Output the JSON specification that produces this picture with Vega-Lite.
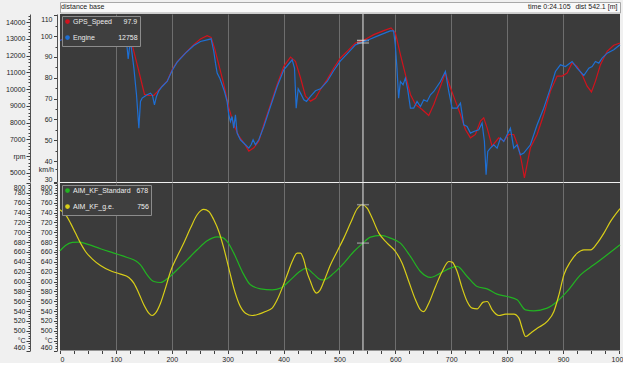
{
"$schema": "https://vega.github.io/schema/vega-lite/v6.json",
"background": "#f0f0f0",
"padding": {"left": 5, "top": 1, "right": 0, "bottom": 0},
"spacing": 1,
"bounds": "flush",
"config": {
  "view": {"fill": "#3b3b3b", "stroke": null},
  "font": "Liberation Sans",
  "axis": {"labelFont": "Liberation Sans", "labelFontSize": 7, "labelColor": "#1e1e1e", "domainColor": "#505050", "tickColor": "#404040", "labelOverlap": false, "labelBound": false, "title": null},
  "axisY": {"grid": false},
  "legend": {"labelFont": "Liberation Sans"}
},
"datasets": {
  "speed": [
    {"d":0,"v":98.0},{"d":15.8,"v":99.9},{"d":42.6,"v":104.7},{"d":66.5,"v":106.3},{"d":90.3,"v":106.8},{"d":108.2,"v":105.2},{"d":120.2,"v":101.5},{"d":129.1,"v":95.9},{"d":138.1,"v":86.3},{"d":144.0,"v":79.9},{"d":151.2,"v":72.0},{"d":158.9,"v":71.5},{"d":167.9,"v":71.6},{"d":173.8,"v":73.2},{"d":182.8,"v":76.0},{"d":191.7,"v":78.4},{"d":200.7,"v":83.9},{"d":209.6,"v":87.6},{"d":224.5,"v":91.9},{"d":239.4,"v":95.9},{"d":251.3,"v":98.6},{"d":263.3,"v":100.2},{"d":270.4,"v":99.4},{"d":276.4,"v":94.3},{"d":284.1,"v":86.3},{"d":293.1,"v":76.8},{"d":302.1,"v":65.6},{"d":311.0,"v":57.6},{"d":320.0,"v":52.0},{"d":328.9,"v":48.8},{"d":337.9,"v":44.8},{"d":346.8,"v":46.4},{"d":355.7,"v":49.6},{"d":364.7,"v":57.6},{"d":376.6,"v":67.1},{"d":388.6,"v":76.8},{"d":400.5,"v":85.5},{"d":412.4,"v":89.9},{"d":421.3,"v":87.9},{"d":430.3,"v":80.0},{"d":439.2,"v":71.2},{"d":448.2,"v":68.8},{"d":457.1,"v":70.2},{"d":466.0,"v":74.4},{"d":478.0,"v":79.1},{"d":489.9,"v":84.7},{"d":501.8,"v":89.5},{"d":513.7,"v":92.7},{"d":528.6,"v":96.7},{"d":543.5,"v":98.0},{"d":561.4,"v":100.7},{"d":579.3,"v":102.6},{"d":592.4,"v":103.9},{"d":600.2,"v":101.5},{"d":609.1,"v":91.1},{"d":618.1,"v":81.5},{"d":627.0,"v":72.0},{"d":636.0,"v":67.2},{"d":647.9,"v":64.8},{"d":659.8,"v":61.9},{"d":668.8,"v":67.2},{"d":677.7,"v":73.6},{"d":689.6,"v":82.4},{"d":698.6,"v":75.2},{"d":707.5,"v":68.8},{"d":716.5,"v":62.4},{"d":725.4,"v":55.2},{"d":734.4,"v":51.2},{"d":743.3,"v":52.8},{"d":752.3,"v":59.2},{"d":758.2,"v":60.8},{"d":764.2,"v":56.0},{"d":773.1,"v":47.2},{"d":785.0,"v":51.2},{"d":794.0,"v":49.6},{"d":802.9,"v":52.8},{"d":811.9,"v":52.8},{"d":820.8,"v":46.4},{"d":826.8,"v":38.4},{"d":831.0,"v":32.0},{"d":835.8,"v":38.4},{"d":841.7,"v":46.4},{"d":853.7,"v":52.8},{"d":865.6,"v":62.4},{"d":877.5,"v":73.6},{"d":889.5,"v":80.8},{"d":898.4,"v":80.8},{"d":907.4,"v":82.3},{"d":916.3,"v":87.1},{"d":925.3,"v":85.5},{"d":934.2,"v":81.5},{"d":943.2,"v":76.0},{"d":950.9,"v":73.2},{"d":958.1,"v":78.4},{"d":967.0,"v":86.3},{"d":979.0,"v":92.7},{"d":990.9,"v":95.6},{"d":1002,"v":96.7}
  ],
  "rpm": [
    {"d":0,"v":12906},{"d":15.8,"v":13145},{"d":42.6,"v":13803},{"d":66.5,"v":13942},{"d":90.3,"v":14002},{"d":108.2,"v":13803},{"d":117.2,"v":13345},{"d":120.2,"v":12448},{"d":122.0,"v":11811},{"d":125.0,"v":12647},{"d":127.4,"v":12548},{"d":132.2,"v":11253},{"d":136.9,"v":9660},{"d":141.1,"v":7668},{"d":144.0,"v":9261},{"d":147.0,"v":9461},{"d":151.2,"v":9560},{"d":155.9,"v":9660},{"d":161.9,"v":9759},{"d":165.5,"v":9620},{"d":169.0,"v":9062},{"d":172.6,"v":9560},{"d":176.8,"v":9899},{"d":182.8,"v":10158},{"d":191.7,"v":10457},{"d":200.7,"v":11114},{"d":209.6,"v":11612},{"d":224.5,"v":12150},{"d":239.4,"v":12608},{"d":251.3,"v":12847},{"d":263.3,"v":12946},{"d":270.4,"v":13006},{"d":275.2,"v":12249},{"d":278.2,"v":11552},{"d":281.2,"v":10955},{"d":285.9,"v":10655},{"d":290.1,"v":10257},{"d":294.3,"v":9859},{"d":299.0,"v":9261},{"d":302.0,"v":8465},{"d":305.0,"v":8066},{"d":307.9,"v":8365},{"d":310.9,"v":7668},{"d":313.9,"v":8465},{"d":316.9,"v":7369},{"d":322.8,"v":6971},{"d":331.8,"v":6672},{"d":337.8,"v":6473},{"d":341.9,"v":6672},{"d":345.5,"v":6971},{"d":349.7,"v":6672},{"d":355.7,"v":6971},{"d":364.7,"v":7768},{"d":376.6,"v":8963},{"d":388.6,"v":10158},{"d":400.5,"v":11154},{"d":415.4,"v":11752},{"d":419.6,"v":11253},{"d":422.6,"v":8863},{"d":426.2,"v":10018},{"d":430.3,"v":9759},{"d":436.3,"v":9361},{"d":441.1,"v":9261},{"d":448.2,"v":9560},{"d":457.1,"v":9899},{"d":466.0,"v":10018},{"d":478.0,"v":10456},{"d":489.9,"v":11114},{"d":501.8,"v":11692},{"d":513.7,"v":12110},{"d":528.6,"v":12648},{"d":549.1,"v":12906},{"d":573.0,"v":13245},{"d":590.9,"v":13484},{"d":596.9,"v":13484},{"d":599.9,"v":12647},{"d":602.9,"v":11253},{"d":605.9,"v":9461},{"d":609.1,"v":10457},{"d":613.8,"v":10257},{"d":618.0,"v":10655},{"d":622.2,"v":9958},{"d":627.0,"v":8863},{"d":632.9,"v":8863},{"d":638.9,"v":9261},{"d":644.9,"v":8963},{"d":650.9,"v":9361},{"d":656.8,"v":9261},{"d":662.8,"v":9660},{"d":668.8,"v":9859},{"d":680.7,"v":10457},{"d":689.6,"v":11054},{"d":695.6,"v":9859},{"d":701.6,"v":8863},{"d":710.5,"v":8863},{"d":716.5,"v":9162},{"d":722.4,"v":7868},{"d":728.4,"v":7768},{"d":734.4,"v":7369},{"d":740.3,"v":7469},{"d":749.3,"v":7568},{"d":755.2,"v":7967},{"d":759.4,"v":6871},{"d":762.4,"v":4879},{"d":765.4,"v":6273},{"d":770.1,"v":6472},{"d":776.1,"v":6672},{"d":782.1,"v":6472},{"d":788.1,"v":7070},{"d":794.0,"v":6871},{"d":800.0,"v":7269},{"d":805.9,"v":7668},{"d":811.9,"v":6472},{"d":817.9,"v":6672},{"d":823.8,"v":6074},{"d":829.8,"v":6174},{"d":841.7,"v":6672},{"d":853.7,"v":7868},{"d":865.6,"v":8863},{"d":877.5,"v":10058},{"d":886.5,"v":11054},{"d":895.4,"v":11453},{"d":904.4,"v":11353},{"d":916.3,"v":11652},{"d":925.3,"v":11254},{"d":937.2,"v":10815},{"d":946.2,"v":11254},{"d":952.1,"v":11353},{"d":958.1,"v":11652},{"d":964.1,"v":11552},{"d":970.0,"v":11851},{"d":979.0,"v":12150},{"d":990.9,"v":12349},{"d":1002,"v":12648}
  ],
  "std": [
    {"d":0,"v":662.4},{"d":9.8,"v":673.3},{"d":21.8,"v":679.4},{"d":33.7,"v":680.1},{"d":48.6,"v":676.0},{"d":72.4,"v":666.5},{"d":96.3,"v":657.7},{"d":120.2,"v":648.9},{"d":135.1,"v":642.1},{"d":144.0,"v":634.0},{"d":155.9,"v":613.6},{"d":167.9,"v":600.0},{"d":179.8,"v":598.0},{"d":191.7,"v":605.5},{"d":209.6,"v":623.8},{"d":227.5,"v":644.1},{"d":245.4,"v":664.4},{"d":263.3,"v":682.7},{"d":281.2,"v":690.8},{"d":290.1,"v":689.5},{"d":299.0,"v":681.3},{"d":311.0,"v":657.7},{"d":325.9,"v":620.4},{"d":340.8,"v":593.3},{"d":358.7,"v":585.2},{"d":379.6,"v":583.2},{"d":394.5,"v":586.6},{"d":412.4,"v":603.4},{"d":430.3,"v":621.5},{"d":440.0,"v":627.0},{"d":454.1,"v":615.0},{"d":466.0,"v":604.0},{"d":472.1,"v":603.4},{"d":489.9,"v":617.0},{"d":508.0,"v":637.3},{"d":525.8,"v":661.0},{"d":540.6,"v":676.5},{"d":555.5,"v":690.1},{"d":573.4,"v":693.5},{"d":591.3,"v":688.1},{"d":609.1,"v":677.9},{"d":627.0,"v":650.9},{"d":644.9,"v":620.4},{"d":662.8,"v":608.3},{"d":680.7,"v":617.0},{"d":698.6,"v":627.2},{"d":710.6,"v":630.6},{"d":728.5,"v":610.2},{"d":746.4,"v":589.9},{"d":764.2,"v":585.2},{"d":782.1,"v":574.4},{"d":800.0,"v":569.7},{"d":817.9,"v":562.9},{"d":832.8,"v":542.6},{"d":847.7,"v":540.6},{"d":871.6,"v":546.0},{"d":889.5,"v":559.5},{"d":907.4,"v":579.9},{"d":931.3,"v":613.6},{"d":955.1,"v":633.9},{"d":979.0,"v":654.2},{"d":1002,"v":674.5}
  ],
  "ge": [
    {"d":0,"v":745.7},{"d":9.8,"v":735.6},{"d":18.8,"v":718.6},{"d":27.7,"v":698.3},{"d":36.7,"v":678.0},{"d":45.6,"v":661.0},{"d":57.5,"v":646.1},{"d":72.4,"v":632.6},{"d":90.3,"v":621.8},{"d":108.2,"v":615.0},{"d":123.1,"v":608.3},{"d":132.1,"v":596.7},{"d":141.0,"v":576.4},{"d":150.0,"v":552.7},{"d":158.9,"v":535.8},{"d":164.9,"v":531.0},{"d":170.8,"v":535.8},{"d":179.8,"v":556.1},{"d":188.7,"v":586.6},{"d":197.7,"v":620.4},{"d":209.6,"v":650.9},{"d":221.5,"v":678.0},{"d":233.5,"v":708.5},{"d":245.4,"v":735.6},{"d":257.3,"v":746.4},{"d":266.3,"v":742.3},{"d":275.2,"v":725.4},{"d":284.2,"v":701.7},{"d":293.1,"v":667.8},{"d":302.0,"v":627.2},{"d":311.0,"v":586.6},{"d":320.0,"v":556.1},{"d":331.9,"v":535.8},{"d":343.8,"v":531.0},{"d":355.7,"v":533.8},{"d":367.7,"v":539.2},{"d":379.6,"v":546.0},{"d":388.6,"v":562.9},{"d":397.5,"v":586.6},{"d":406.5,"v":613.6},{"d":415.4,"v":640.7},{"d":424.4,"v":657.6},{"d":430.3,"v":657.6},{"d":436.3,"v":644.0},{"d":442.2,"v":618.0},{"d":448.2,"v":600.0},{"d":454.0,"v":583.0},{"d":459.0,"v":576.5},{"d":465.0,"v":582.0},{"d":472.1,"v":600.0},{"d":484.0,"v":633.9},{"d":495.9,"v":661.0},{"d":507.8,"v":688.1},{"d":519.8,"v":718.6},{"d":531.7,"v":747.7},{"d":540.6,"v":755.9},{"d":549.6,"v":749.1},{"d":558.5,"v":728.8},{"d":570.5,"v":698.3},{"d":585.4,"v":678.0},{"d":600.3,"v":661.0},{"d":612.2,"v":637.3},{"d":624.1,"v":600.0},{"d":636.1,"v":562.8},{"d":645.0,"v":542.5},{"d":651.0,"v":539.1},{"d":659.9,"v":556.1},{"d":671.9,"v":590.0},{"d":683.8,"v":620.4},{"d":695.7,"v":640.7},{"d":701.7,"v":639.4},{"d":710.6,"v":620.4},{"d":719.6,"v":586.6},{"d":728.5,"v":559.5},{"d":737.5,"v":546.0},{"d":746.4,"v":544.6},{"d":757.2,"v":558.1},{"d":764.4,"v":559.5},{"d":773.3,"v":542.5},{"d":785.3,"v":531.0},{"d":797.2,"v":533.8},{"d":812.1,"v":533.8},{"d":821.1,"v":525.6},{"d":827.0,"v":505.3},{"d":833.0,"v":488.4},{"d":842.0,"v":495.2},{"d":853.9,"v":505.3},{"d":871.8,"v":518.9},{"d":883.7,"v":539.2},{"d":892.7,"v":573.0},{"d":901.6,"v":613.6},{"d":913.6,"v":640.7},{"d":925.5,"v":657.6},{"d":937.4,"v":664.4},{"d":949.4,"v":664.4},{"d":961.3,"v":678.0},{"d":973.2,"v":698.3},{"d":985.1,"v":722.0},{"d":1002,"v":748.0}
  ]
},
"resolve": {"scale": {"color": "independent", "x": "independent", "y": "independent"}, "legend": {"color": "independent"}},
"vconcat": [
  {
    "width": 560, "height": 10.5,
    "view": {"fill": "#f9f9f9", "stroke": "#a8a8a8"},
    "data": {"values": [{}]},
    "layer": [
      {"mark": {"type": "text", "text": "distance base", "align": "left", "baseline": "middle", "fontSize": 7, "color": "#202020"},
       "encoding": {"x": {"datum": 2, "type": "quantitative", "scale": {"domain": [0, 1002], "nice": false, "zero": false}, "axis": null}}},
      {"mark": {"type": "text", "text": "time 0:24.105", "align": "left", "baseline": "middle", "fontSize": 7, "color": "#202020"},
       "encoding": {"x": {"datum": 837.6, "type": "quantitative"}}},
      {"mark": {"type": "text", "text": "dist 542.1 [m]", "align": "right", "baseline": "middle", "fontSize": 7, "color": "#202020"},
       "encoding": {"x": {"datum": 997.4, "type": "quantitative"}}}
    ]
  },
  {
    "width": 560, "height": 168,
    "layer": [
      {
        "layer": [
          {"data": {"name": "speed"}, "mark": {"type": "line", "strokeWidth": 1.2},
           "encoding": {
             "x": {"field": "d", "type": "quantitative", "scale": {"domain": [0, 1002], "nice": false, "zero": false},
                   "axis": {"values": [100, 200, 300, 400, 500, 600, 700, 800, 900], "tickCount": 500, "grid": true, "gridColor": "#6e6e6e", "gridWidth": 1, "labels": false, "ticks": false, "domain": false}},
             "y": {"field": "v", "type": "quantitative", "scale": {"domain": [30, 110.6], "nice": false, "zero": false},
                   "axis": {"orient": "left", "offset": 3, "format": "d", "tickCount": 500, "values": [30, 36, 40, 45, 50, 55, 60, 65, 70, 75, 80, 85, 90, 95, 100, 105, 110],
                            "labelExpr": "datum.value == 36 ? 'km/h' : (datum.value % 10 == 0 ? datum.label : '')",
                            "tickSize": {"condition": {"test": "datum.value % 10 == 0", "value": 3.5}, "value": 2},
                            "labelPadding": 1.5, "labelFlush": 2}},
             "color": {"datum": "GPS_Speed", "type": "nominal",
                       "scale": {"domain": ["GPS_Speed", "Engine"], "range": ["#d2121d", "#1e6fd4"]},
                       "legend": {"title": null, "orient": "top-left", "offset": 2, "padding": 2, "fillColor": "#3f3f3f", "strokeColor": "#8c8c8c",
                                  "labelColor": "#ededed", "labelFontSize": 7, "symbolType": "circle", "symbolSize": 6, "symbolStrokeWidth": 2.3,
                                  "rowPadding": 3, "labelOffset": 2,
                                  "labelExpr": "datum.label == 'GPS_Speed' ? 'GPS_Speed\u00a0\u00a0\u00a0\u00a0\u00a0\u00a097.9' : 'Engine\u00a0\u00a0\u00a0\u00a0\u00a0\u00a0\u00a0\u00a0\u00a0\u00a0\u00a0\u00a012758'"}}
           }},
          {"data": {"values": [{"d": 542.1, "v": 97.9}]}, "mark": {"type": "tick", "orient": "horizontal", "size": 12, "thickness": 1.5, "color": "#e6e6e6"},
           "encoding": {"x": {"field": "d", "type": "quantitative"}, "y": {"field": "v", "type": "quantitative"}}}
        ]
      },
      {
        "layer": [
          {"data": {"name": "rpm"}, "mark": {"type": "line", "strokeWidth": 1.2},
           "encoding": {
             "x": {"field": "d", "type": "quantitative"},
             "y": {"field": "v", "type": "quantitative", "scale": {"domain": [4448, 14490], "nice": false, "zero": false},
                   "axis": {"orient": "left", "offset": 30, "format": "d", "tickCount": 500,
                            "values": [4600,4800,5000,5200,5400,5600,5800,6000,6200,6400,6600,6800,7000,7200,7400,7600,7800,8000,8200,8400,8600,8800,9000,9200,9400,9600,9800,10000,10200,10400,10600,10800,11000,11200,11400,11600,11800,12000,12200,12400,12600,12800,13000,13200,13400,13600,13800,14000,14200,14400],
                            "labelExpr": "datum.value == 6000 ? 'rpm' : (datum.value % 1000 == 0 ? datum.label : '')",
                            "tickSize": {"condition": {"test": "datum.value % 1000 == 0", "value": 4}, "value": 2},
                            "labelPadding": 1}},
             "color": {"datum": "Engine", "type": "nominal"}
           }},
          {"data": {"values": [{"d": 542.1, "v": 12758}]}, "mark": {"type": "tick", "orient": "horizontal", "size": 12, "thickness": 1.5, "color": "#b8b8b8"},
           "encoding": {"x": {"field": "d", "type": "quantitative"}, "y": {"field": "v", "type": "quantitative"}}}
        ]
      },
      {"data": {"values": [{}]}, "mark": {"type": "rule", "color": "#e8e8e8", "strokeWidth": 1},
       "encoding": {"x": {"datum": 542.1, "type": "quantitative"}}}
    ],
    "resolve": {"scale": {"y": "independent"}, "axis": {"y": "independent"}}
  },
  {
    "width": 560, "height": 167.5,
    "layer": [
      {
        "layer": [
          {"data": {"name": "std"}, "mark": {"type": "line", "strokeWidth": 1.2, "interpolate": "monotone"},
           "encoding": {
             "x": {"field": "d", "type": "quantitative", "scale": {"domain": [0, 1002], "nice": false, "zero": false},
                   "axis": {"values": [0,25,50,75,100,125,150,175,200,225,250,275,300,325,350,375,400,425,450,475,500,525,550,575,600,625,650,675,700,725,750,775,800,825,850,875,900,925,950,975,1000],
                            "tickCount": 500, "format": "d", "grid": true, "gridColor": "#6e6e6e",
                            "gridOpacity": {"condition": {"test": "datum.value % 100 == 0 && datum.value > 0 && datum.value < 1000", "value": 1}, "value": 0},
                            "labelExpr": "datum.value % 100 == 0 ? datum.label : ''", "tickSize": 3, "labelPadding": 2, "domain": false}},
             "y": {"field": "v", "type": "quantitative", "scale": {"domain": [460, 800], "nice": false, "zero": false},
                   "axis": {"orient": "left", "offset": 3, "format": "d", "tickCount": 500,
                            "values": [460,465,470,475,480,485,490,495,500,505,510,515,520,525,530,535,540,545,550,555,560,565,570,575,580,585,590,595,600,605,610,615,620,625,630,635,640,645,650,655,660,665,670,675,680,685,690,695,700,705,710,715,720,725,730,735,740,745,750,755,760,765,770,775,780,785,790,795,800],
                            "labelExpr": "datum.value == 480 ? '°C' : (datum.value % 20 == 0 ? datum.label : '')",
                            "tickSize": {"condition": {"test": "datum.value % 20 == 0", "value": 3.5}, "value": 2},
                            "labelPadding": 1.5, "labelFlush": 2}},
             "color": {"datum": "AIM_KF_Standard", "type": "nominal",
                       "scale": {"domain": ["AIM_KF_Standard", "AIM_KF_g.e."], "range": ["#22b322", "#d9ce18"]},
                       "legend": {"title": null, "orient": "top-left", "offset": 2, "padding": 2, "fillColor": "#3f3f3f", "strokeColor": "#8c8c8c",
                                  "labelColor": "#ededed", "labelFontSize": 7, "symbolType": "circle", "symbolSize": 6, "symbolStrokeWidth": 2.3,
                                  "rowPadding": 3, "labelOffset": 2,
                                  "labelExpr": "datum.label == 'AIM_KF_Standard' ? 'AIM_KF_Standard\u00a0\u00a0\u00a0678' : 'AIM_KF_g.e.\u00a0\u00a0\u00a0\u00a0\u00a0\u00a0\u00a0\u00a0\u00a0\u00a0\u00a0\u00a0756'"}}
           }},
          {"data": {"values": [{"d": 542.1, "v": 678}]}, "mark": {"type": "tick", "orient": "horizontal", "size": 12, "thickness": 1.5, "color": "#a8a8a8"},
           "encoding": {"x": {"field": "d", "type": "quantitative"}, "y": {"field": "v", "type": "quantitative"}}}
        ]
      },
      {
        "layer": [
          {"data": {"name": "ge"}, "mark": {"type": "line", "strokeWidth": 1.2, "interpolate": "monotone"},
           "encoding": {
             "x": {"field": "d", "type": "quantitative"},
             "y": {"field": "v", "type": "quantitative", "scale": {"domain": [460, 800], "nice": false, "zero": false},
                   "axis": {"orient": "left", "offset": 30, "format": "d", "tickCount": 500,
                            "values": [460,465,470,475,480,485,490,495,500,505,510,515,520,525,530,535,540,545,550,555,560,565,570,575,580,585,590,595,600,605,610,615,620,625,630,635,640,645,650,655,660,665,670,675,680,685,690,695,700,705,710,715,720,725,730,735,740,745,750,755,760,765,770,775,780,785,790,795,800],
                            "labelExpr": "datum.value == 480 ? '°C' : (datum.value % 20 == 0 ? datum.label : '')",
                            "tickSize": {"condition": {"test": "datum.value % 20 == 0", "value": 4}, "value": 2},
                            "labelPadding": 1, "labelFlush": 2}},
             "color": {"datum": "AIM_KF_g.e.", "type": "nominal"}
           }},
          {"data": {"values": [{"d": 542.1, "v": 756}]}, "mark": {"type": "tick", "orient": "horizontal", "size": 12, "thickness": 1.5, "color": "#a8a8a8"},
           "encoding": {"x": {"field": "d", "type": "quantitative"}, "y": {"field": "v", "type": "quantitative"}}}
        ]
      },
      {"data": {"values": [{}]}, "mark": {"type": "rule", "color": "#e8e8e8", "strokeWidth": 1},
       "encoding": {"x": {"datum": 542.1, "type": "quantitative"}}}
    ],
    "resolve": {"scale": {"y": "independent"}, "axis": {"y": "independent"}}
  }
]
}
